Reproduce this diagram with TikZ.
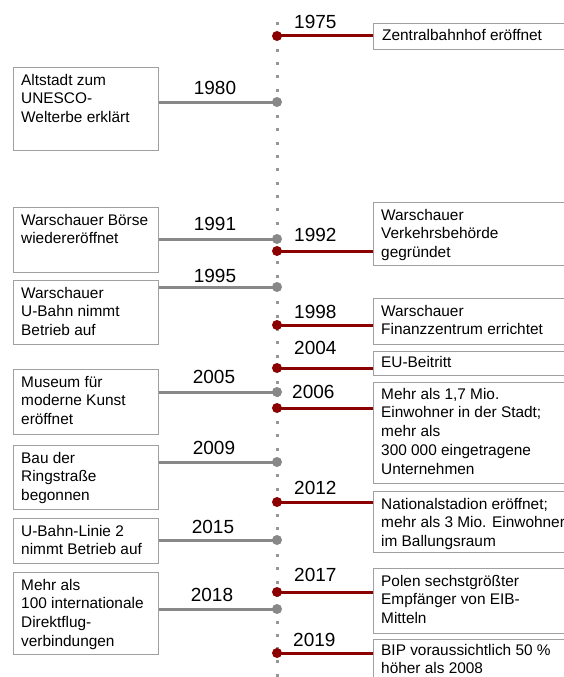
\documentclass[tikz,border=0pt]{standalone}
\usepackage{fontspec}
\setmainfont{Liberation Sans}
\usetikzlibrary{calc}
\definecolor{evred}{RGB}{139,0,0}
\definecolor{evgray}{RGB}{136,136,136}
\definecolor{boxgray}{RGB}{160,160,160}
\definecolor{axisgray}{RGB}{150,150,150}
\newcommand\firstln{\rule{0pt}{15pt}}
\tikzset{
  frame/.style={draw=boxgray, line width=0.8pt, fill=white, inner sep=0pt, anchor=north west},
  lframe/.style={frame, minimum width=145pt},
  rframe/.style={frame, minimum width=210pt},
  txt/.style={anchor=north west, inner sep=0pt, align=left, font=\fontsize{15.4}{18.7}\selectfont},
  yr/.style={inner sep=0pt, font=\fontsize{19}{22}\selectfont},
  ryr/.style={yr, anchor=west},
  rline/.style={draw=evred, line width=3pt},
  lline/.style={draw=evgray, line width=3pt},
  rdot/.style={circle, fill=evred, minimum size=10pt, inner sep=0pt},
  ldot/.style={circle, fill=evgray, minimum size=10pt, inner sep=0pt},
  axisline/.style={draw=axisgray, line width=3pt, dash pattern=on 3pt off 10.3pt},
}
\begin{document}
\begin{tikzpicture}[x=1pt,y=-1pt]
\useasboundingbox (0,0) rectangle (564,677);
\clip (0,0) rectangle (564,677);
% axis
\coordinate (atop) at (277,22);
\coordinate (abot) at (277,690);
\draw[axisline] (atop) -- (abot);
% left boxes
\node[lframe, minimum height=83pt] (b1980) at (13,67) {};
\node[lframe, minimum height=65pt] (b1991) at (13,207) {};
\node[lframe, minimum height=64pt] (b1995) at (13,280) {};
\node[lframe, minimum height=65pt] (b2005) at (13,369) {};
\node[lframe, minimum height=64pt] (b2009) at (13,445) {};
\node[lframe, minimum height=45pt] (b2015) at (13,518) {};
\node[lframe, minimum height=82pt] (b2018) at (13,572) {};
% right boxes
\node[rframe, minimum height=26pt] (b1975) at (373,23) {};
\node[rframe, minimum height=63pt] (b1992) at (373,202) {};
\node[rframe, minimum height=46pt] (b1998) at (373,298) {};
\node[rframe, minimum height=24pt] (b2004) at (373,351) {};
\node[rframe, minimum height=101pt] (b2006) at (373,382) {};
\node[rframe, minimum height=61pt] (b2012) at (373,491) {};
\node[rframe, minimum height=65pt] (b2017) at (373,568) {};
\node[rframe, minimum height=70pt] (b2019) at (373,639) {};
% dots
\node[ldot] (d1980) at (277,102) {};
\node[ldot] (d1991) at (277,239) {};
\node[ldot] (d1995) at (277,287) {};
\node[ldot] (d2005) at (277,392) {};
\node[ldot] (d2009) at (277,462) {};
\node[ldot] (d2015) at (277,540) {};
\node[ldot] (d2018) at (277,609) {};
\node[rdot] (d1975) at (277,36) {};
\node[rdot] (d1992) at (277,251) {};
\node[rdot] (d1998) at (277,325) {};
\node[rdot] (d2004) at (277,368) {};
\node[rdot] (d2006) at (277,408) {};
\node[rdot] (d2012) at (277,502) {};
\node[rdot] (d2017) at (277,592) {};
\node[rdot] (d2019) at (277,653) {};
% connectors
\draw[lline] (b1980.east |- d1980) -- (d1980.center);
\draw[lline] (b1991.east |- d1991) -- (d1991.center);
\draw[lline] (b1995.east |- d1995) -- (d1995.center);
\draw[lline] (b2005.east |- d2005) -- (d2005.center);
\draw[lline] (b2009.east |- d2009) -- (d2009.center);
\draw[lline] (b2015.east |- d2015) -- (d2015.center);
\draw[lline] (b2018.east |- d2018) -- (d2018.center);
\draw[rline] (d1975.center) -- (d1975 -| b1975.west);
\draw[rline] (d1992.center) -- (d1992 -| b1992.west);
\draw[rline] (d1998.center) -- (d1998 -| b1998.west);
\draw[rline] (d2004.center) -- (d2004 -| b2004.west);
\draw[rline] (d2006.center) -- (d2006 -| b2006.west);
\draw[rline] (d2012.center) -- (d2012 -| b2012.west);
\draw[rline] (d2017.center) -- (d2017 -| b2017.west);
\draw[rline] (d2019.center) -- (d2019 -| b2019.west);
% years
\node[yr] (y1980) at (215,88) {1980};
\node[yr] (y1991) at (215,224) {1991};
\node[yr] (y1995) at (215,276) {1995};
\node[yr] (y2005) at (214,377) {2005};
\node[yr] (y2009) at (214,448) {2009};
\node[yr] (y2015) at (213,527) {2015};
\node[yr] (y2018) at (212,595) {2018};
\node[ryr] (y1975) at (294,22) {1975};
\node[ryr] (y1992) at (294,235) {1992};
\node[ryr] (y1998) at (294,312) {1998};
\node[ryr] (y2004) at (294,348) {2004};
\node[ryr] (y2006) at (292,392) {2006};
\node[ryr] (y2012) at (294,488) {2012};
\node[ryr] (y2017) at (294,575) {2017};
\node[ryr] (y2019) at (293,640) {2019};
% texts
\node[txt] (t1980) at ($(b1980.north west)+(8,3)$) {\firstln Altstadt zum\\UNESCO-\\Welterbe erklärt};
\node[txt] (t1991) at ($(b1991.north west)+(8,3)$) {\firstln Warschauer Börse\\wiedereröffnet};
\node[txt] (t1995) at ($(b1995.north west)+(8,3)$) {\firstln Warschauer\\U-Bahn nimmt\\Betrieb auf};
\node[txt] (t2005) at ($(b2005.north west)+(8,3)$) {\firstln Museum für\\moderne Kunst\\eröffnet};
\node[txt] (t2009) at ($(b2009.north west)+(8,3)$) {\firstln Bau der\\Ringstraße\\begonnen};
\node[txt] (t2015) at ($(b2015.north west)+(8,3)$) {\firstln U-Bahn-Linie 2\\nimmt Betrieb auf};
\node[txt] (t2018) at ($(b2018.north west)+(8,3)$) {\firstln Mehr als\\100 internationale\\Direktflug-\\verbindungen};
\node[txt] (t1975) at ($(b1975.north west)+(9,2.5)$) {\firstln Zentralbahnhof eröffnet};
\node[txt] (t1992) at ($(b1992.north west)+(8,3)$) {\firstln Warschauer\\Verkehrsbehörde\\gegründet};
\node[txt] (t1998) at ($(b1998.north west)+(8,3)$) {\firstln Warschauer\\Finanzzentrum errichtet};
\node[txt] (t2004) at ($(b2004.north west)+(8,1.5)$) {\firstln EU-Beitritt};
\node[txt] (t2006) at ($(b2006.north west)+(8,2)$) {\firstln Mehr als 1,7 Mio.\\Einwohner in der Stadt;\\mehr als\\300 000 eingetragene\\Unternehmen};
\node[txt] (t2012) at ($(b2012.north west)+(8,3)$) {\firstln Nationalstadion eröffnet;\\mehr als 3 Mio. Einwohner\\im Ballungsraum};
\node[txt] (t2017) at ($(b2017.north west)+(8,3)$) {\firstln Polen sechstgrößter\\Empfänger von EIB-\\Mitteln};
\node[txt] (t2019) at ($(b2019.north west)+(8,1)$) {\firstln BIP voraussichtlich 50 \%\\höher als 2008};
\end{tikzpicture}
\end{document}
